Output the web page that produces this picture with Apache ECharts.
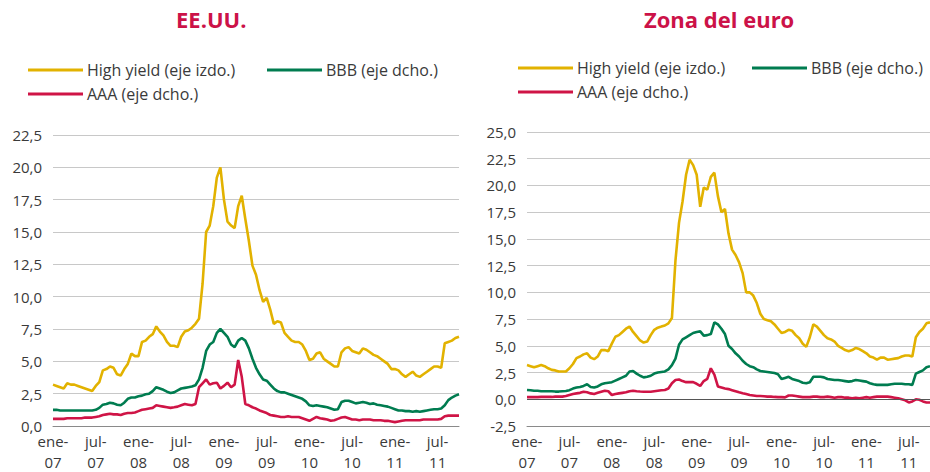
<!DOCTYPE html>
<html>
<head>
<meta charset="utf-8">
<script src="https://cdn.jsdelivr.net/npm/echarts@6/dist/echarts.min.js"></script>
<style>
  html, body { margin: 0; padding: 0; background: #fff; }
  #chart { width: 930px; height: 472px; }
</style>
</head>
<body>
<div id="chart"></div>
<script>
  // fechas quincenales: ene-07 ... oct-11
  const fechas = []
  for (let y = 2007; y <= 2011; y++) {
    for (let m = 1; m <= 12; m++) {
      for (const d of ['01', '15']) {
        if (fechas.length < 115) fechas.push(y + '-' + String(m).padStart(2, '0') + '-' + d)
      }
    }
  }

  const nombres = ['High yield (eje izdo.)', 'BBB (eje dcho.)', 'AAA (eje dcho.)']
  const colores = ['#e2b200', '#007c50', '#cf1446']

  // EE.UU.
  const hyUS = [
    3.2, 3.1, 3.0, 2.9, 3.3, 3.2, 3.2, 3.1, 3.0, 2.9,
    2.8, 2.7, 3.1, 3.4, 4.3, 4.4, 4.6, 4.5, 4.0, 3.9,
    4.4, 4.8, 5.6, 5.4, 5.4, 6.5, 6.6, 6.9, 7.1, 7.7,
    7.3, 7.0, 6.5, 6.2, 6.2, 6.1, 6.9, 7.3, 7.4, 7.6,
    7.9, 8.3, 11.0, 15.0, 15.5, 17.0, 19.2, 20.0, 17.5, 15.8,
    15.5, 15.3, 17.0, 17.8, 16.0, 14.3, 12.4, 11.7, 10.5, 9.6,
    9.9, 9.0, 7.9, 8.1, 8.0, 7.2, 6.9, 6.6, 6.5, 6.5,
    6.3, 5.8, 5.1, 5.2, 5.6, 5.7, 5.2, 5.0, 4.8, 4.6,
    4.6, 5.7, 6.0, 6.1, 5.8, 5.7, 5.6, 6.0, 5.9, 5.7,
    5.5, 5.4, 5.2, 5.0, 4.8, 4.4, 4.4, 4.3, 4.0, 3.8,
    4.0, 4.2, 3.9, 3.8, 4.0, 4.2, 4.4, 4.6, 4.6, 4.5,
    6.4, 6.5, 6.6, 6.8, 6.9
  ]
  const bbbUS = [
    1.25, 1.25, 1.2, 1.2, 1.2, 1.2, 1.2, 1.2, 1.2, 1.2,
    1.2, 1.2, 1.25, 1.4, 1.65, 1.7, 1.8, 1.75, 1.65, 1.6,
    1.8, 2.1, 2.2, 2.2, 2.3, 2.35, 2.45, 2.5, 2.7, 3.0,
    2.9, 2.8, 2.65, 2.55, 2.6, 2.75, 2.9, 2.95, 3.0, 3.05,
    3.15, 3.6, 4.5, 5.8, 6.3, 6.5, 7.2, 7.5, 7.2, 6.9,
    6.3, 6.1, 6.6, 6.8, 6.6, 6.0, 5.2, 4.5, 4.0, 3.6,
    3.5, 3.2, 2.9, 2.7, 2.6, 2.6, 2.5, 2.4, 2.3, 2.2,
    2.1, 1.9, 1.6, 1.55, 1.6, 1.55, 1.5, 1.45, 1.35, 1.25,
    1.3, 1.85, 1.95, 1.95, 1.85, 1.75, 1.8, 1.85, 1.8, 1.7,
    1.75, 1.65, 1.6, 1.55, 1.5, 1.4, 1.3, 1.2, 1.2, 1.15,
    1.15, 1.1, 1.15, 1.1, 1.15, 1.2, 1.25, 1.3, 1.3, 1.35,
    1.6, 2.0, 2.2, 2.35, 2.45
  ]
  const aaaUS = [
    0.55, 0.55, 0.55, 0.55, 0.6, 0.6, 0.6, 0.6, 0.6, 0.65,
    0.65, 0.65, 0.7, 0.75, 0.85, 0.9, 0.95, 0.9, 0.9, 0.85,
    0.95, 1.0, 1.0, 1.05, 1.15, 1.25, 1.3, 1.35, 1.4, 1.6,
    1.55, 1.5, 1.45, 1.4, 1.45, 1.5, 1.6, 1.7, 1.65, 1.6,
    1.7, 3.0, 3.3, 3.6, 3.2, 3.3, 3.35, 2.9, 3.1, 3.35,
    3.0, 3.2, 5.1, 3.8, 1.7, 1.6, 1.45, 1.35, 1.2, 1.1,
    1.0, 0.85, 0.8, 0.75, 0.7, 0.7, 0.75, 0.7, 0.7, 0.7,
    0.6, 0.5, 0.4, 0.55, 0.7, 0.6, 0.55, 0.5, 0.4, 0.45,
    0.55, 0.65, 0.7, 0.6, 0.5, 0.5, 0.45, 0.5, 0.5, 0.5,
    0.45, 0.45, 0.45, 0.4, 0.4, 0.35, 0.3, 0.35, 0.4, 0.45,
    0.45, 0.45, 0.45, 0.45, 0.5, 0.5, 0.5, 0.5, 0.5, 0.55,
    0.75, 0.8, 0.8, 0.8, 0.8
  ]

  // Zona del euro
  const hyEUR = [
    3.2, 3.1, 3.0, 3.1, 3.2, 3.1, 2.9, 2.75, 2.7, 2.6,
    2.6, 2.6, 2.9, 3.3, 3.85, 4.0, 4.2, 4.3, 3.9, 3.75,
    4.0, 4.6, 4.6, 4.5, 5.2, 5.85, 6.0, 6.3, 6.6, 6.8,
    6.3, 5.9, 5.5, 5.3, 5.4, 6.0, 6.5, 6.7, 6.8, 6.9,
    7.1, 7.6, 13.0, 16.5, 18.5, 21.0, 22.4, 21.9, 21.0, 18.0,
    19.8, 19.6, 20.8, 21.2, 19.0, 17.5, 17.8, 15.5, 14.0, 13.5,
    12.8, 11.8, 10.0, 10.0, 9.7, 9.0, 8.0, 7.5, 7.4, 7.3,
    7.0, 6.6, 6.2, 6.3, 6.5, 6.4, 6.0, 5.7, 5.2, 4.9,
    5.8, 7.0, 6.8, 6.4, 6.0, 5.7, 5.6, 5.4, 5.0, 4.8,
    4.6, 4.5, 4.6, 4.8, 4.7, 4.5, 4.3, 4.0, 3.9, 3.7,
    3.9, 3.9, 3.7, 3.75, 3.8, 3.85, 4.0, 4.1, 4.1, 4.0,
    5.8, 6.3, 6.6, 7.1, 7.2
  ]
  const bbbEUR = [
    0.87, 0.85, 0.8, 0.8, 0.75, 0.75, 0.75, 0.75, 0.72, 0.72,
    0.75, 0.78, 0.85, 1.0, 1.1, 1.15, 1.25, 1.4, 1.15, 1.1,
    1.2, 1.4, 1.5, 1.55, 1.6, 1.75, 1.9, 2.05, 2.2, 2.6,
    2.65, 2.4, 2.2, 2.05, 2.1, 2.2, 2.4, 2.5, 2.55, 2.6,
    2.8, 3.2, 3.8, 5.1, 5.6, 5.8, 6.0, 6.2, 6.3, 6.35,
    5.95, 6.0, 6.1, 7.2, 7.0, 6.6, 6.1, 5.0, 4.7, 4.3,
    4.0, 3.6, 3.3, 3.1, 3.0, 2.8, 2.65, 2.6, 2.55, 2.5,
    2.45, 2.35, 1.9, 2.0, 2.1, 1.9, 1.8, 1.7, 1.55, 1.5,
    1.6, 2.1, 2.1, 2.1, 2.05, 1.9, 1.85, 1.8, 1.8, 1.75,
    1.7, 1.65, 1.7, 1.8, 1.75, 1.7, 1.65, 1.5, 1.4, 1.35,
    1.35, 1.35, 1.35, 1.4, 1.45, 1.45, 1.45, 1.4, 1.4, 1.35,
    2.4, 2.55, 2.7, 3.0, 3.1
  ]
  const aaaEUR = [
    0.2, 0.2, 0.2, 0.2, 0.22, 0.22, 0.22, 0.22, 0.25, 0.25,
    0.25, 0.3, 0.4, 0.5, 0.55, 0.6, 0.7, 0.65, 0.55, 0.5,
    0.6, 0.7, 0.8, 0.75, 0.4, 0.5, 0.55, 0.6, 0.65, 0.75,
    0.8, 0.75, 0.72, 0.7, 0.7, 0.7, 0.75, 0.8, 0.85, 0.87,
    1.0, 1.5, 1.8, 1.85, 1.7, 1.6, 1.6, 1.6, 1.45, 1.25,
    1.7, 1.9, 2.9, 2.3, 1.2, 1.1, 1.0, 0.95, 0.85, 0.75,
    0.65, 0.56, 0.5, 0.4, 0.35, 0.3, 0.3, 0.28, 0.25, 0.25,
    0.22, 0.2, 0.2, 0.18, 0.35, 0.35, 0.3, 0.25, 0.2, 0.2,
    0.2, 0.25, 0.25, 0.2, 0.2, 0.25, 0.2, 0.15, 0.2, 0.2,
    0.15, 0.15, 0.1, 0.15, 0.1, 0.15, 0.2, 0.15, 0.2, 0.25,
    0.25, 0.25, 0.25, 0.2, 0.15, 0.1, 0.0, -0.1, -0.3, -0.2,
    0.0, -0.05, -0.2, -0.3, -0.3
  ]

  const fuente = '"Open Sans", "Noto Sans", sans-serif'
  const textColor = '#3a3a3a'
  const meses = { '01': 'ene-', '07': 'jul-' }

  const ejeX = (gridIndex) => ({
    type: 'category',
    gridIndex,
    data: fechas,
    boundaryGap: false,
    axisTick: { show: false },
    axisLine: { onZero: false, lineStyle: { color: '#8a8a8a', width: 1 } },
    axisLabel: {
      interval: (i) => i % 12 === 0,
      formatter: (v) => meses[v.slice(5, 7)] + '\n' + v.slice(2, 4),
      color: textColor,
      fontSize: 15,
      lineHeight: 21,
      margin: 4,
      fontFamily: fuente
    },
    splitLine: { show: false }
  })
  const ejeY = (gridIndex, min, max) => ({
    type: 'value',
    gridIndex,
    min,
    max,
    interval: 2.5,
    axisLine: { show: false },
    axisTick: { show: false },
    axisLabel: {
      formatter: (v) => v.toFixed(1).replace('.', ','),
      color: textColor,
      fontSize: 15,
      margin: 11,
      fontFamily: fuente
    },
    splitLine: { lineStyle: { color: '#c8c8c8', width: 1 } }
  })
  const leyenda = (name, left, top) => ({
    data: [name],
    left,
    top,
    icon: 'rect',
    itemWidth: 55,
    itemHeight: 3,
    padding: 0,
    selectedMode: false,
    textStyle: { color: textColor, fontSize: 16, fontFamily: fuente, padding: [0, 0, 0, -1] }
  })
  const serie = (name, data, k, panel) => ({
    name,
    type: 'line',
    data,
    xAxisIndex: panel,
    yAxisIndex: panel,
    showSymbol: false,
    symbol: 'none',
    color: colores[k],
    lineStyle: { color: colores[k], width: 2.6 },
    z: 2 + k
  })

  const chart = echarts.init(document.getElementById('chart'), null, { renderer: 'svg' })
  chart.setOption({
    animation: false,
    title: [
      { text: 'EE.UU.', left: 171, top: 3, textStyle: { color: '#cc1248', fontSize: 22, fontWeight: 'bold', fontFamily: fuente } },
      { text: 'Zona del euro', left: 639, top: 3, textStyle: { color: '#cc1248', fontSize: 22, fontWeight: 'bold', fontFamily: fuente } }
    ],
    legend: [
      leyenda(nombres[0], 28, 62),
      leyenda(nombres[1], 267, 62),
      leyenda(nombres[2], 28, 86),
      leyenda(nombres[0], 518, 60),
      leyenda(nombres[1], 752, 60),
      leyenda(nombres[2], 518, 84)
    ],
    grid: [
      { left: 53, right: 471, top: 135, bottom: 45 },
      { left: 527, right: -4, top: 132, bottom: 45 }
    ],
    xAxis: [ejeX(0), ejeX(1)],
    yAxis: [ejeY(0, 0, 22.5), ejeY(1, -2.5, 25)],
    series: [
      serie(nombres[0], hyUS, 0, 0),
      serie(nombres[1], bbbUS, 1, 0),
      serie(nombres[2], aaaUS, 2, 0),
      serie(nombres[0], hyEUR, 0, 1),
      serie(nombres[1], bbbEUR, 1, 1),
      Object.assign(serie(nombres[2], aaaEUR, 2, 1), {
        markLine: {
          silent: true,
          symbol: 'none',
          label: { show: false },
          lineStyle: { color: '#555', width: 1, type: 'solid' },
          data: [{ yAxis: 0 }]
        }
      })
    ]
  })
</script>
</body>
</html>
